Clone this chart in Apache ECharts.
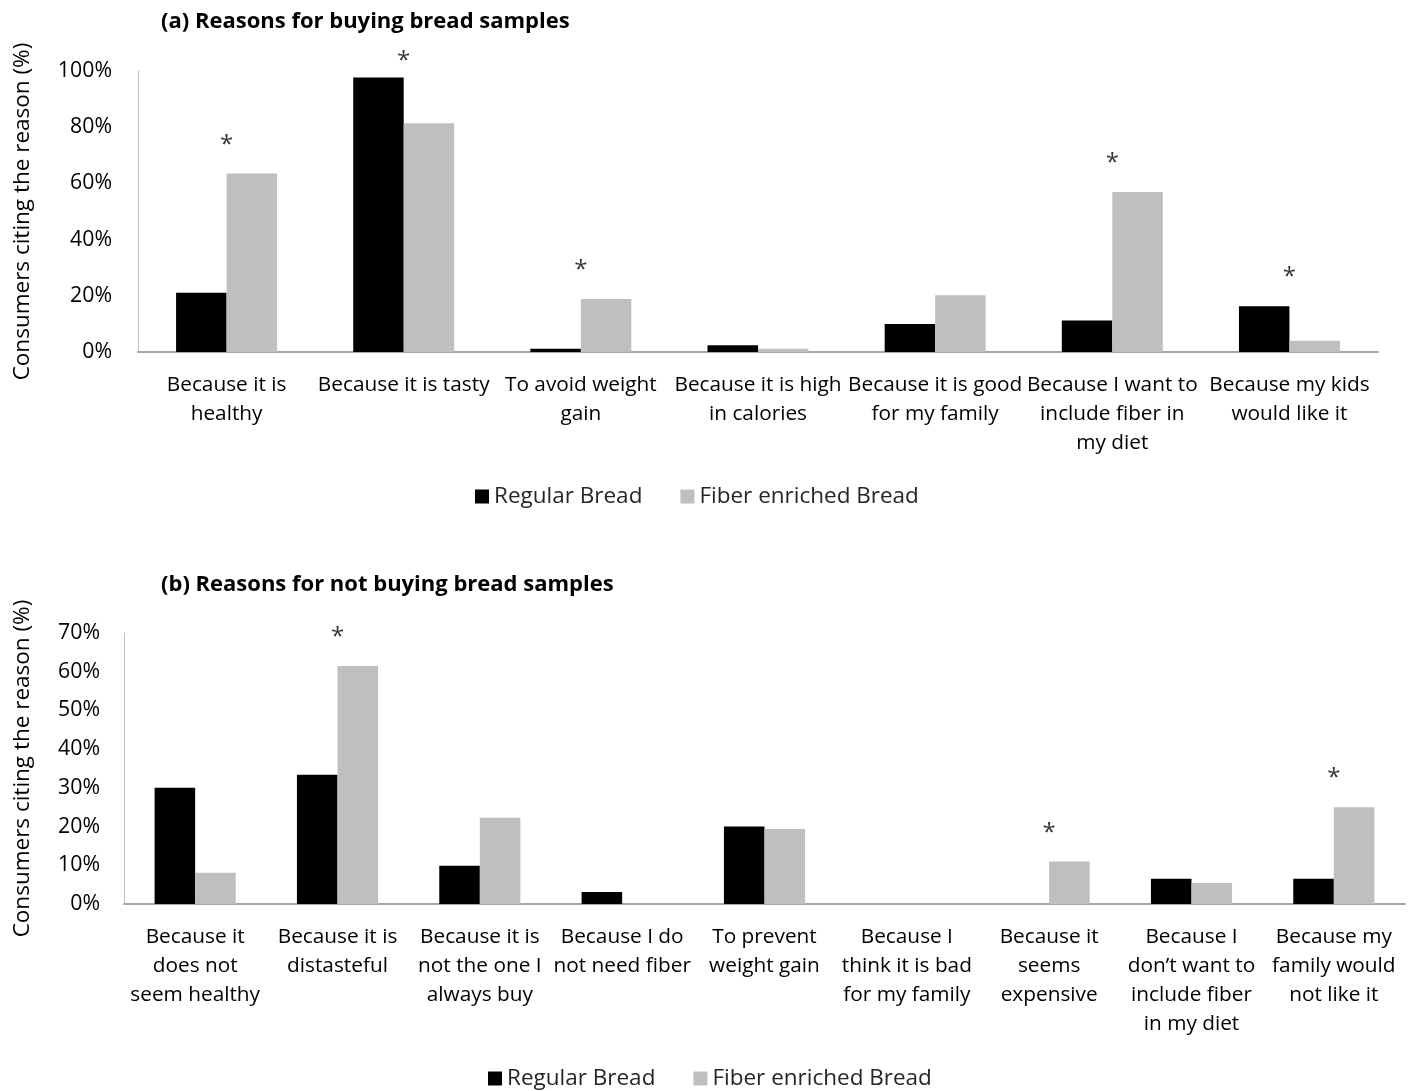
<!DOCTYPE html>
<html>
<head>
<meta charset="utf-8">
<script src="https://cdn.jsdelivr.net/npm/echarts@6/dist/echarts.min.js"></script>
<style>
  html, body { margin: 0; padding: 0; background: #ffffff; }
  #chart { width: 1416px; height: 1091px; }
</style>
</head>
<body>
<div id="chart"></div>
<script>
// Panel (a): reasons for buying
const buyCategories = [
  'Because it is\nhealthy',
  'Because it is tasty',
  'To avoid weight\ngain',
  'Because it is high\nin calories',
  'Because it is good\nfor my family',
  'Because I want to\ninclude fiber in\nmy diet',
  'Because my kids\nwould like it'
];
const buyRegular = [21.1, 97.7, 1.2, 2.4, 10.0, 11.2, 16.3];
const buyFiber   = [63.5, 81.4, 18.9, 1.2, 20.2, 56.9, 4.0];
const buySignificant = [true, true, true, false, false, true, true];
const buyTicks = [0, 20, 40, 60, 80, 100];

// Panel (b): reasons for not buying
const notBuyCategories = [
  'Because it\ndoes not\nseem healthy',
  'Because it is\ndistasteful',
  'Because it is\nnot the one I\nalways buy',
  'Because I do\nnot need fiber',
  'To prevent\nweight gain',
  'Because I\nthink it is bad\nfor my family',
  'Because it\nseems\nexpensive',
  'Because I\ndon\u2019t want to\ninclude fiber\nin my diet',
  'Because my\nfamily would\nnot like it'
];
const notBuyRegular = [30.0, 33.4, 9.9, 3.1, 20.0, 0, 0, 6.5, 6.5];
const notBuyFiber   = [8.1, 61.5, 22.3, 0, 19.4, 0, 11.0, 5.4, 25.0];
const notBuySignificant = [false, true, false, false, false, false, true, false, true];
const notBuyTicks = [0, 10, 20, 30, 40, 50, 60, 70];

const seriesNames = ['Regular Bread', 'Fiber enriched Bread'];
const FONT = 'Open Sans';
const TEXT = '#000000';

// asterisk sits a fixed gap above the taller bar of each flagged pair
function starPoints(a, b, flags, gap, cap) {
  const pts = [];
  flags.forEach((f, i) => {
    if (f) pts.push([i, Math.min(Math.max(a[i], b[i]) + gap, cap)]);
  });
  return pts;
}

function barSeries(name, data, color, axisIdx) {
  return {
    name: name,
    type: 'bar',
    xAxisIndex: axisIdx,
    yAxisIndex: axisIdx,
    data: data,
    barGap: '0%',
    barCategoryGap: '43%',
    itemStyle: { color: color }
  };
}

function starSeries(points, axisIdx) {
  return {
    type: 'scatter',
    xAxisIndex: axisIdx,
    yAxisIndex: axisIdx,
    data: points,
    symbolSize: 1,
    clip: false,
    silent: true,
    itemStyle: { color: 'rgba(0,0,0,0)' },
    label: {
      show: true,
      position: 'inside',
      formatter: '*',
      color: TEXT,
      fontFamily: FONT,
      fontSize: 24
    }
  };
}

function valueAxis(ticks, grid, nameGap, labelMargin) {
  return {
    type: 'value',
    gridIndex: grid,
    min: ticks[0],
    max: ticks[ticks.length - 1],
    interval: ticks[1] - ticks[0],
    name: 'Consumers citing the reason (%)',
    nameLocation: 'middle',
    nameRotate: 90,
    nameGap: nameGap,
    nameTextStyle: { fontFamily: FONT, fontSize: 22.5, color: TEXT },
    axisLine: { show: true, lineStyle: { color: '#bfbfbf', width: 1 } },
    axisTick: { show: false },
    splitLine: { show: false },
    axisLabel: {
      formatter: '{value}%',
      fontFamily: FONT,
      fontSize: 21.3,
      color: TEXT,
      margin: labelMargin
    }
  };
}

function categoryAxis(cats, grid, labelMargin) {
  return {
    type: 'category',
    gridIndex: grid,
    data: cats,
    axisLine: { show: true, lineStyle: { color: '#a6a6a6', width: 2 } },
    axisTick: { show: false },
    axisLabel: {
      interval: 0,
      fontFamily: FONT,
      fontSize: 20.8,
      lineHeight: 29,
      color: TEXT,
      margin: labelMargin
    }
  };
}

function legendAt(left, top) {
  return {
    data: seriesNames,
    left: left,
    top: top,
    itemWidth: 14,
    itemHeight: 14,
    itemGap: 38,
    icon: 'rect',
    selectedMode: false,
    textStyle: { fontFamily: FONT, fontSize: 22.5, color: '#262626' }
  };
}

const chart = echarts.init(document.getElementById('chart'), null, { renderer: 'canvas' });

chart.setOption({
  backgroundColor: '#ffffff',
  animation: false,
  title: [
    {
      text: '(a) Reasons for buying bread samples',
      left: 156, top: 6,
      textStyle: { fontFamily: FONT, fontSize: 22, fontWeight: 'bold', color: TEXT }
    },
    {
      text: '(b) Reasons for not buying bread samples',
      left: 156, top: 569,
      textStyle: { fontFamily: FONT, fontSize: 22, fontWeight: 'bold', color: TEXT }
    }
  ],
  legend: [legendAt(470, 480), legendAt(483, 1062)],
  grid: [
    { left: 138, top: 71, width: 1240, height: 281 },
    { left: 124, top: 633, width: 1281, height: 271 }
  ],
  xAxis: [
    categoryAxis(buyCategories, 0, 19),
    categoryAxis(notBuyCategories, 1, 19)
  ],
  yAxis: [
    valueAxis(buyTicks, 0, 104, 26),
    valueAxis(notBuyTicks, 1, 90, 24)
  ],
  series: [
    barSeries(seriesNames[0], buyRegular, '#000000', 0),
    barSeries(seriesNames[1], buyFiber, '#bfbfbf', 0),
    starSeries(starPoints(buyRegular, buyFiber, buySignificant, 10.2, 103.5), 0),
    barSeries(seriesNames[0], notBuyRegular, '#000000', 1),
    barSeries(seriesNames[1], notBuyFiber, '#bfbfbf', 1),
    starSeries(starPoints(notBuyRegular, notBuyFiber, notBuySignificant, 7.4, 80), 1)
  ]
});
</script>
</body>
</html>
